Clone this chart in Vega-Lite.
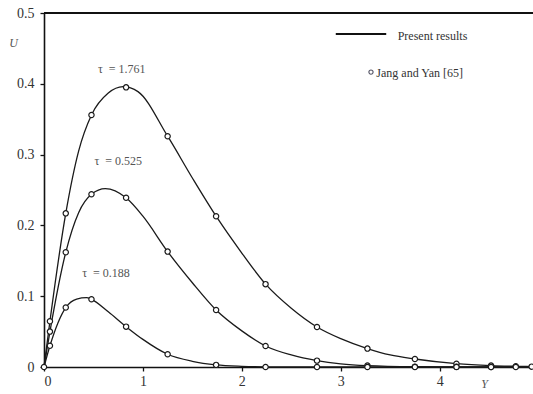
{
  "$schema": "https://vega.github.io/schema/vega-lite/v6.json",
  "width": 489,
  "height": 354,
  "autosize": {"type": "none"},
  "padding": {"left": 44, "top": 13, "right": 0, "bottom": 27},
  "background": "white",
  "config": {
    "view": {"stroke": null},
    "axis": {
      "grid": false,
      "domainColor": "#111",
      "domainWidth": 1.6,
      "tickColor": "#111",
      "tickWidth": 1.3,
      "tickSize": 4,
      "labelFont": "Liberation Serif",
      "labelFontSize": 14,
      "labelColor": "#333",
      "titleFont": "Liberation Serif",
      "titleFontStyle": "italic",
      "titleFontWeight": "normal",
      "titleFontSize": 12,
      "titleColor": "#555"
    }
  },
  "datasets": {
    "lines": [
      {"tau": "1.761", "x": 0, "u": 0},
      {"tau": "1.761", "x": 0.06, "u": 0.0646},
      {"tau": "1.761", "x": 0.22, "u": 0.217},
      {"tau": "1.761", "x": 0.35, "u": 0.305},
      {"tau": "1.761", "x": 0.48, "u": 0.356},
      {"tau": "1.761", "x": 0.65, "u": 0.387},
      {"tau": "1.761", "x": 0.8, "u": 0.396},
      {"tau": "1.761", "x": 0.95, "u": 0.389},
      {"tau": "1.761", "x": 1.25, "u": 0.326},
      {"tau": "1.761", "x": 1.5, "u": 0.267},
      {"tau": "1.761", "x": 1.74, "u": 0.213},
      {"tau": "1.761", "x": 2.0, "u": 0.161},
      {"tau": "1.761", "x": 2.24, "u": 0.117},
      {"tau": "1.761", "x": 2.5, "u": 0.083},
      {"tau": "1.761", "x": 2.76, "u": 0.0565},
      {"tau": "1.761", "x": 3.0, "u": 0.04},
      {"tau": "1.761", "x": 3.27, "u": 0.026},
      {"tau": "1.761", "x": 3.5, "u": 0.017},
      {"tau": "1.761", "x": 3.75, "u": 0.0113},
      {"tau": "1.761", "x": 4.17, "u": 0.0047},
      {"tau": "1.761", "x": 4.52, "u": 0.002},
      {"tau": "1.761", "x": 4.77, "u": 0.001},
      {"tau": "1.761", "x": 4.944, "u": 0.0005},
      {"tau": "0.525", "x": 0, "u": 0},
      {"tau": "0.525", "x": 0.06, "u": 0.05},
      {"tau": "0.525", "x": 0.22, "u": 0.162},
      {"tau": "0.525", "x": 0.35, "u": 0.218},
      {"tau": "0.525", "x": 0.48, "u": 0.244},
      {"tau": "0.525", "x": 0.62, "u": 0.252},
      {"tau": "0.525", "x": 0.83, "u": 0.239},
      {"tau": "0.525", "x": 1.0, "u": 0.213},
      {"tau": "0.525", "x": 1.25, "u": 0.163},
      {"tau": "0.525", "x": 1.5, "u": 0.119},
      {"tau": "0.525", "x": 1.74, "u": 0.0805},
      {"tau": "0.525", "x": 2.0, "u": 0.051},
      {"tau": "0.525", "x": 2.24, "u": 0.0297},
      {"tau": "0.525", "x": 2.5, "u": 0.017},
      {"tau": "0.525", "x": 2.76, "u": 0.009},
      {"tau": "0.525", "x": 3.0, "u": 0.0045},
      {"tau": "0.525", "x": 3.27, "u": 0.002},
      {"tau": "0.525", "x": 3.75, "u": 0.0005},
      {"tau": "0.525", "x": 4.17, "u": 0.0002},
      {"tau": "0.525", "x": 4.944, "u": 0},
      {"tau": "0.188", "x": 0, "u": 0},
      {"tau": "0.188", "x": 0.06, "u": 0.03},
      {"tau": "0.188", "x": 0.22, "u": 0.084},
      {"tau": "0.188", "x": 0.33, "u": 0.096},
      {"tau": "0.188", "x": 0.43, "u": 0.098},
      {"tau": "0.188", "x": 0.48, "u": 0.0956},
      {"tau": "0.188", "x": 0.65, "u": 0.078},
      {"tau": "0.188", "x": 0.83, "u": 0.057},
      {"tau": "0.188", "x": 1.0, "u": 0.039},
      {"tau": "0.188", "x": 1.25, "u": 0.018},
      {"tau": "0.188", "x": 1.5, "u": 0.008},
      {"tau": "0.188", "x": 1.74, "u": 0.003},
      {"tau": "0.188", "x": 2.0, "u": 0.001},
      {"tau": "0.188", "x": 2.24, "u": 0.0003},
      {"tau": "0.188", "x": 2.76, "u": 0},
      {"tau": "0.188", "x": 4.944, "u": 0}
    ],
    "markers": [
      {"tau": "1.761", "x": 0, "u": 0},
      {"tau": "1.761", "x": 0.06, "u": 0.0646},
      {"tau": "1.761", "x": 0.22, "u": 0.217},
      {"tau": "1.761", "x": 0.48, "u": 0.356},
      {"tau": "1.761", "x": 0.83, "u": 0.395},
      {"tau": "1.761", "x": 1.25, "u": 0.326},
      {"tau": "1.761", "x": 1.74, "u": 0.213},
      {"tau": "1.761", "x": 2.24, "u": 0.117},
      {"tau": "1.761", "x": 2.76, "u": 0.0565},
      {"tau": "1.761", "x": 3.27, "u": 0.026},
      {"tau": "1.761", "x": 3.75, "u": 0.0113},
      {"tau": "1.761", "x": 4.17, "u": 0.0047},
      {"tau": "1.761", "x": 4.52, "u": 0.002},
      {"tau": "1.761", "x": 4.77, "u": 0.001},
      {"tau": "1.761", "x": 4.93, "u": 0.0005},
      {"tau": "0.525", "x": 0.06, "u": 0.05},
      {"tau": "0.525", "x": 0.22, "u": 0.162},
      {"tau": "0.525", "x": 0.48, "u": 0.244},
      {"tau": "0.525", "x": 0.83, "u": 0.239},
      {"tau": "0.525", "x": 1.25, "u": 0.163},
      {"tau": "0.525", "x": 1.74, "u": 0.0805},
      {"tau": "0.525", "x": 2.24, "u": 0.0297},
      {"tau": "0.525", "x": 2.76, "u": 0.009},
      {"tau": "0.525", "x": 3.27, "u": 0.002},
      {"tau": "0.525", "x": 3.75, "u": 0.0005},
      {"tau": "0.525", "x": 4.17, "u": 0.0002},
      {"tau": "0.525", "x": 4.52, "u": 0},
      {"tau": "0.188", "x": 0.06, "u": 0.03},
      {"tau": "0.188", "x": 0.22, "u": 0.084},
      {"tau": "0.188", "x": 0.48, "u": 0.0956},
      {"tau": "0.188", "x": 0.83, "u": 0.057},
      {"tau": "0.188", "x": 1.25, "u": 0.018},
      {"tau": "0.188", "x": 1.74, "u": 0.003},
      {"tau": "0.188", "x": 2.24, "u": 0},
      {"tau": "0.188", "x": 2.76, "u": 0},
      {"tau": "0.188", "x": 3.27, "u": 0},
      {"tau": "0.188", "x": 3.75, "u": 0},
      {"tau": "0.188", "x": 4.17, "u": 0},
      {"tau": "0.188", "x": 4.52, "u": 0},
      {"tau": "0.188", "x": 4.77, "u": 0}
    ],
    "labels": [
      {"text": "τ\u00a0\u00a0= 1.761", "x": 0.786, "u": 0.421},
      {"text": "τ\u00a0\u00a0= 0.525", "x": 0.75, "u": 0.291},
      {"text": "τ\u00a0\u00a0= 0.188", "x": 0.627, "u": 0.133}
    ],
    "legendText": [
      {"text": "Present results", "x": 3.576, "u": 0.4675},
      {"text": "Jang and Yan [65]", "x": 3.36, "u": 0.4155}
    ],
    "legendLine": [{"x": 2.95, "x2": 3.46, "u": 0.4705}],
    "legendPoint": [{"x": 3.306, "u": 0.4165}],
    "frame": [{"x": 0, "x2": 4.944, "u": 0.5}]
  },
  "encoding": {
    "x": {
      "field": "x",
      "type": "quantitative",
      "scale": {"domain": [0, 4.944], "nice": false, "zero": false},
      "axis": {
        "values": [0, 1, 2, 3, 4],
        "format": "~g",
        "labelPadding": 3,
        "title": "Y",
        "titleX": 440,
        "titleY": 16,
        "titleBaseline": "middle",
        "titleAlign": "center"
      }
    },
    "y": {
      "field": "u",
      "type": "quantitative",
      "scale": {"domain": [0, 0.5], "nice": false, "zero": false},
      "axis": {
        "values": [0, 0.1, 0.2, 0.3, 0.4, 0.5],
        "format": "~g",
        "labelPadding": 6,
        "title": "U",
        "titleAngle": 0,
        "titleX": -31,
        "titleY": 29,
        "titleBaseline": "middle",
        "titleAlign": "center"
      }
    }
  },
  "layer": [
    {
      "data": {"name": "frame"},
      "mark": {"type": "rule", "stroke": "#111", "strokeWidth": 2.2},
      "encoding": {"x2": {"field": "x2"}}
    },
    {
      "data": {"name": "lines"},
      "mark": {"type": "line", "interpolate": "monotone", "stroke": "#1a1a1a", "strokeWidth": 1.3},
      "encoding": {"detail": {"field": "tau"}, "order": {"field": "x", "type": "quantitative"}}
    },
    {
      "data": {"name": "markers"},
      "mark": {"type": "point", "shape": "circle", "filled": false, "fill": "white", "fillOpacity": 1, "stroke": "#1a1a1a", "strokeWidth": 1.2, "size": 28, "opacity": 1},
      "encoding": {}
    },
    {
      "data": {"name": "labels"},
      "mark": {"type": "text", "font": "Liberation Serif", "fontSize": 12, "color": "#555", "align": "center", "baseline": "middle"},
      "encoding": {"text": {"field": "text"}}
    },
    {
      "data": {"name": "legendLine"},
      "mark": {"type": "rule", "stroke": "#111", "strokeWidth": 2},
      "encoding": {"x2": {"field": "x2"}}
    },
    {
      "data": {"name": "legendText"},
      "mark": {"type": "text", "font": "Liberation Serif", "fontSize": 12, "color": "#333", "align": "left", "baseline": "middle"},
      "encoding": {"text": {"field": "text"}}
    },
    {
      "data": {"name": "legendPoint"},
      "mark": {"type": "point", "shape": "circle", "filled": false, "fill": "white", "fillOpacity": 1, "stroke": "#556", "strokeWidth": 1.1, "size": 18, "opacity": 1},
      "encoding": {}
    }
  ]
}
